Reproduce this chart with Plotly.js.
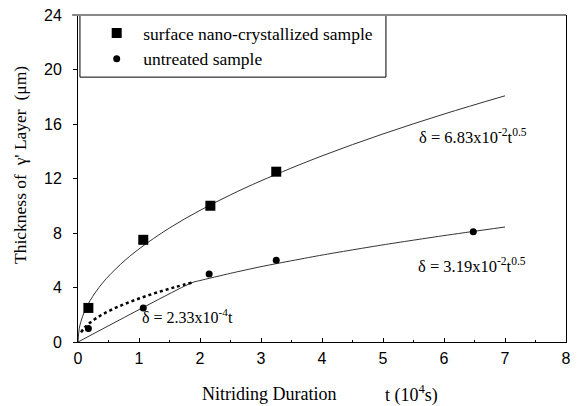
<!DOCTYPE html>
<html>
<head>
<meta charset="utf-8">
<script src="https://cdn.plot.ly/plotly-3.0.1.min.js"></script>
<style>html,body{margin:0;padding:0;background:#fff;}#chart{width:581px;height:406px;}</style>
</head>
<body>
<div id="chart"></div>
<script>
// Measured data (t in 10^4 s, thickness in μm)
const nanoT = [0.17, 1.07, 2.17, 3.25];
const nanoY = [2.5, 7.5, 10.0, 12.5];
const untreatedT = [0.17, 1.07, 2.15, 3.25, 6.48];
const untreatedY = [1.0, 2.5, 5.0, 6.0, 8.1];

// Fitted curve, surface nano-crystallized
const fitNanoT = [0, 0.02, 0.05, 0.1, 0.2, 0.4, 0.7, 1.0, 1.5, 2.0, 2.5, 3.0, 4.0, 5.0, 6.0, 7.0];
const fitNanoY = [0, 0.97, 1.53, 2.16, 3.05, 4.32, 5.71, 6.83, 8.37, 9.66, 10.8, 11.83, 13.66, 15.27, 16.73, 18.07];

// Fitted curve, untreated (linear then parabolic)
const fitUntrT = [0, 1.87, 2.0, 2.5, 3.0, 4.0, 5.0, 6.0, 7.0];
const fitUntrY = [0, 4.36, 4.51, 5.04, 5.53, 6.38, 7.13, 7.81, 8.44];

// Dotted parabolic extrapolation for untreated at early times
const dotT = [0.05, 0.1, 0.2, 0.4, 0.7, 1.0, 1.3, 1.6, 1.87];
const dotY = [0.71, 1.01, 1.43, 2.02, 2.67, 3.19, 3.64, 4.04, 4.36];

const legendNames = ["surface nano-crystallized sample", "untreated sample"];
const xTitle = ["Nitriding Duration", "t (10<sup>4</sup>s)"];
const yTitle = "Thickness of  \u03b3' Layer  (\u03bcm)";
const fitLabels = [
  "\u03b4 = 6.83x10<sup>-2</sup>t<sup>0.5</sup>",
  "\u03b4 = 3.19x10<sup>-2</sup>t<sup>0.5</sup>",
  "\u03b4 = 2.33x10<sup>-4</sup>t"
];

const serif = "Liberation Serif, Times New Roman, serif";
const sans = "Liberation Sans, Arial, sans-serif";

const traces = [
  {x: fitNanoT, y: fitNanoY, mode: 'lines', line: {color: '#333', width: 1, shape: 'spline'}, showlegend: false, hoverinfo: 'skip'},
  {x: fitUntrT, y: fitUntrY, mode: 'lines', line: {color: '#333', width: 1, shape: 'spline', smoothing: 0.6}, showlegend: false, hoverinfo: 'skip'},
  {x: dotT, y: dotY, mode: 'lines', line: {color: '#000', width: 2.5, dash: 'dot', shape: 'spline'}, showlegend: false, hoverinfo: 'skip'},
  {x: nanoT, y: nanoY, mode: 'markers', name: legendNames[0], marker: {symbol: 'square', size: 10, color: '#000'}},
  {x: untreatedT, y: untreatedY, mode: 'markers', name: legendNames[1], marker: {symbol: 'circle', size: 7, color: '#000'}}
];

const layout = {
  width: 581, height: 406,
  margin: {l: 78, r: 15, t: 15, b: 64},
  paper_bgcolor: '#fff', plot_bgcolor: '#fff',
  showlegend: true,
  legend: {
    x: 0.025, y: 1.0, xanchor: 'left', yanchor: 'top',
    borderwidth: 0, bgcolor: 'rgba(0,0,0,0)',
    font: {family: serif, size: 17.5, color: '#000'},
    itemwidth: 43, tracegroupgap: 0
  },
  xaxis: {
    range: [0, 8], dtick: 1, tick0: 0,
    showgrid: false, zeroline: false,
    showline: true, linecolor: '#000', linewidth: 1,
    ticks: 'inside', ticklen: 4, tickcolor: '#000',
    minor: {dtick: 0.5, ticks: 'inside', ticklen: 2, tickcolor: '#000', showgrid: false},
    tickfont: {family: sans, size: 16, color: '#000'},
    ticklabelstandoff: 2
  },
  yaxis: {
    range: [0, 24], dtick: 4, tick0: 0,
    showgrid: false, zeroline: false,
    showline: true, linecolor: '#000', linewidth: 1, mirror: true,
    ticks: 'outside', ticklen: 4, tickcolor: '#000',
    tickfont: {family: sans, size: 16, color: '#000'},
    ticklabelstandoff: 8
  },
  shapes: [
    {type: 'rect', xref: 'paper', yref: 'paper', x0: 0.004, x1: 0.631, y0: 0.81, y1: 1, line: {color: '#000', width: 1}, fillcolor: 'rgba(0,0,0,0)'},
    {type: 'line', xref: 'paper', yref: 'paper', x0: -0.012, x1: 1, y0: 1, y1: 1, line: {color: '#888', width: 2}}
  ],
  annotations: [
    {text: fitLabels[0], x: 6.48, y: 15.1, xref: 'x', yref: 'y', xanchor: 'center', yanchor: 'middle', showarrow: false, font: {family: serif, size: 16.5, color: '#000'}},
    {text: fitLabels[1], x: 6.46, y: 5.65, xref: 'x', yref: 'y', xanchor: 'center', yanchor: 'middle', showarrow: false, font: {family: serif, size: 16.5, color: '#000'}},
    {text: fitLabels[2], x: 1.8, y: 1.9, xref: 'x', yref: 'y', xanchor: 'center', yanchor: 'middle', showarrow: false, font: {family: serif, size: 16, color: '#000'}},
    {text: xTitle[0], x: 3.13, y: -0.158, xref: 'x', yref: 'paper', xanchor: 'center', yanchor: 'middle', showarrow: false, font: {family: serif, size: 18, color: '#000'}},
    {text: xTitle[1], x: 5.46, y: -0.158, xref: 'x', yref: 'paper', xanchor: 'center', yanchor: 'middle', showarrow: false, font: {family: serif, size: 18, color: '#000'}},
    {text: yTitle, x: -0.119, y: 0.541, xref: 'paper', yref: 'paper', xanchor: 'center', yanchor: 'middle', textangle: -90, showarrow: false, font: {family: serif, size: 17.5, color: '#000'}}
  ]
};

Plotly.newPlot('chart', traces, layout, {displayModeBar: false, staticPlot: true});
</script>
</body>
</html>
